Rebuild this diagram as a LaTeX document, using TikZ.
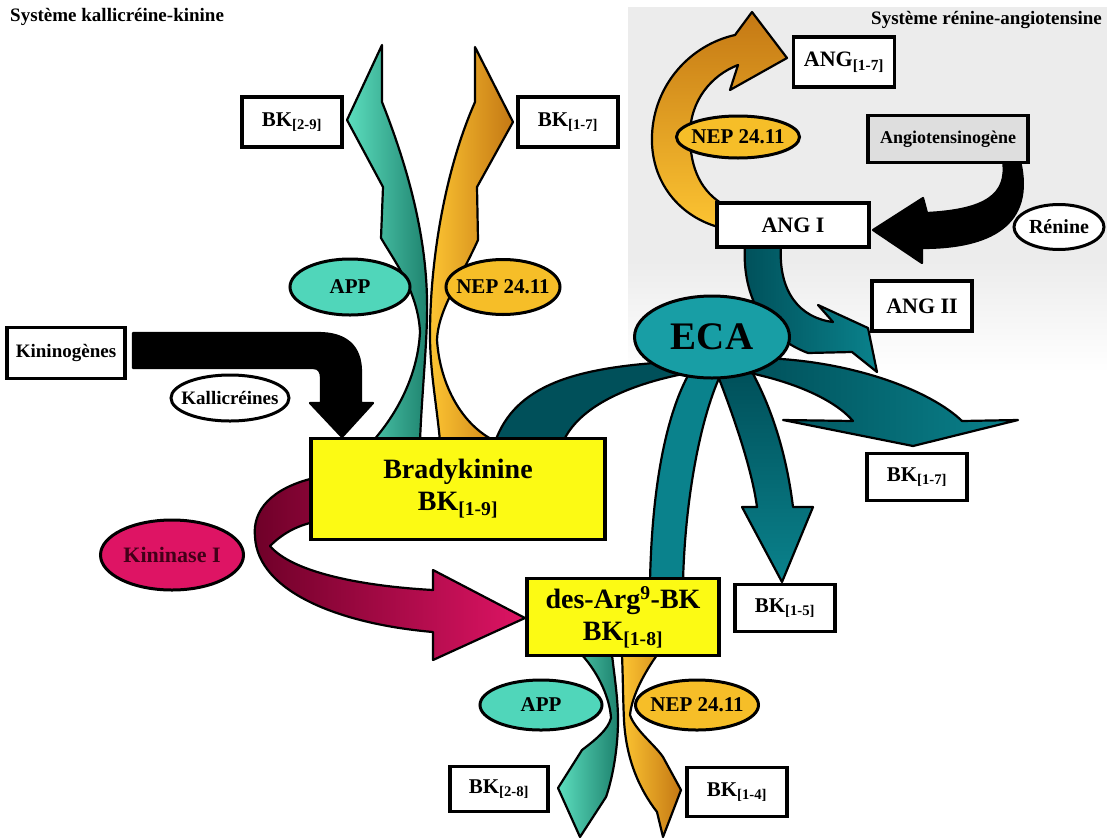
\documentclass[tikz,border=0pt]{standalone}
\usepackage{fontspec}
\setmainfont{Liberation Serif}
\usepackage{xcolor}
\usetikzlibrary{shapes.geometric}
\definecolor{panelgray}{RGB}{236,236,236}
\definecolor{applight}{RGB}{92,222,190}
\definecolor{appdark}{RGB}{30,130,110}
\definecolor{appcol}{RGB}{80,214,186}
\definecolor{neplight}{RGB}{252,196,50}
\definecolor{nepdark}{RGB}{196,120,20}
\definecolor{nepcol}{RGB}{246,190,40}
\definecolor{boxyellow}{RGB}{252,250,20}
\definecolor{ecacol}{RGB}{24,158,165}
\definecolor{ecamid}{RGB}{10,130,140}
\definecolor{ecadark}{RGB}{0,80,90}
\definecolor{kincol}{RGB}{222,20,100}
\definecolor{kindark}{RGB}{110,0,40}
\definecolor{agengray}{RGB}{222,222,222}
\tikzset{
    box/.style={rectangle, draw=black, line width=3.5pt, fill=white, align=center, inner sep=2pt, font=\bfseries\fontsize{21}{23}\selectfont},
    ybox/.style={box, fill=boxyellow, font=\bfseries\fontsize{28}{32}\selectfont},
    enz/.style={ellipse, draw=black, line width=3pt, inner sep=0pt, font=\bfseries\fontsize{21}{23}\selectfont},
    tight/.style={inner xsep=-14pt},
    flow/.style={draw=black, line width=2.2pt, line join=round},
    title/.style={inner sep=0pt, font=\bfseries\fontsize{19}{21}\selectfont}
}
\begin{document}
\begin{tikzpicture}[x=1pt, y=-1pt]
    \useasboundingbox (0,0) rectangle (1107,838);
    \fill[white] (0,0) rectangle (1107,838);

    % Renin-angiotensin panel
    \fill[panelgray] (628,7) rectangle (1107,262);
    \shade[top color=panelgray, bottom color=white] (628,261) rectangle (1107,372);

    % Titles
    \node[title, anchor=west] (TitleKK) at (10,17) {Système kallicréine-kinine};
    \node[title, anchor=east] (TitleRA) at (1102,20) {Système rénine-angiotensine};

    % Kallikrein arrow
    \draw[flow, fill=black] (133,333) -- (318,333) .. controls (346,333) and (361,346) .. (361,372) -- (361,403) -- (373,403) -- (342,437) -- (310,403) -- (321,403) -- (321,378) .. controls (321,372) and (319,368) .. (313,368) -- (133,368) -- cycle;

    % APP / NEP arrows from bradykinin
    \draw[flow, left color=applight, right color=appdark] (373,441) .. controls (400,410) and (418,372) .. (420,332) .. controls (418,292) and (395,262) .. (381,238) -- (383,187) -- (347,120) -- (382,45) -- (382,102) .. controls (405,160) and (426,230) .. (427,300) .. controls (428,335) and (422,390) .. (420,441) -- cycle;
    \draw[flow, left color=neplight, right color=nepdark] (440,441) .. controls (436,400) and (430,370) .. (430,335) .. controls (430,260) and (445,170) .. (475,102) -- (475,47) -- (513,122) -- (477,187) -- (478,240) .. controls (460,280) and (438,310) .. (437,340) .. controls (440,385) and (462,425) .. (495,441) -- cycle;

    % Kininase I arrow
    \draw[flow, left color=kindark, right color=kincol] (314,478) .. controls (272,488) and (252,510) .. (255,537) .. controls (258,592) and (340,624) .. (433,632) -- (433,660) -- (525,618) -- (433,570) -- (433,590) .. controls (360,586) and (292,572) .. (270,546) .. controls (282,534) and (296,526) .. (314,522) -- cycle;

    % ECA arrows
    \draw[flow, fill=ecadark] (495,442) .. controls (515,385) and (575,368) .. (668,362) -- (688,373) .. controls (625,385) and (578,408) .. (563,442) -- cycle;
    \draw[flow, fill=ecamid] (650,582) .. controls (652,480) and (668,410) .. (690,372) -- (720,376) .. controls (700,420) and (685,500) .. (683,582) -- cycle;
    \draw[flow, top color=ecadark, bottom color=ecamid] (718,376) .. controls (735,420) and (752,470) .. (757,507) -- (742,507) -- (782,582) -- (813,507) -- (793,507) .. controls (786,450) and (770,405) .. (752,372) -- cycle;
    \draw[flow, left color=ecadark, right color=ecamid] (745,372) .. controls (795,382) and (835,400) .. (853,421) -- (783,420) -- (913,446) -- (1018,420) -- (962,421) .. controls (930,390) and (850,360) .. (760,358) -- cycle;
    \draw[flow, left color=ecadark, right color=ecamid] (745,246) .. controls (742,290) and (760,335) .. (808,353) -- (852,352) -- (877,372) -- (868,328) -- (818,305) -- (833,322) .. controls (800,318) and (778,292) .. (781,246) -- cycle;

    % Renin arrow
    \draw[flow, fill=black] (1003,161) .. controls (1008,195) and (985,210) .. (927,213) -- (923,198) -- (873,230) -- (922,263) -- (922,248) .. controls (990,248) and (1035,225) .. (1020,161) -- cycle;

    % NEP arrow ANG I -> ANG 1-7
    \draw[flow, top color=nepdark, bottom color=neplight] (722,228) .. controls (680,218) and (650,182) .. (652,135) .. controls (654,85) and (690,45) .. (735,35) -- (752,12) -- (787,58) -- (730,90) -- (738,65) .. controls (712,75) and (690,100) .. (690,135) .. controls (690,170) and (702,192) .. (724,205) -- cycle;

    % APP / NEP arrows from des-Arg9-BK
    \draw[flow, left color=applight, right color=appdark] (582,655) .. controls (600,675) and (610,700) .. (611,718) .. controls (608,730) and (595,740) .. (582,750) -- (558,788) -- (580,837) -- (606,797) .. controls (612,780) and (618,750) .. (618,720) .. controls (618,700) and (615,680) .. (612,655) -- cycle;
    \draw[flow, left color=neplight, right color=nepdark] (622,655) .. controls (623,680) and (623,700) .. (624,720) .. controls (626,760) and (640,790) .. (657,812) -- (663,837) -- (681,790) -- (663,757) .. controls (655,745) and (635,730) .. (630,715) .. controls (632,695) and (645,672) .. (657,655) -- cycle;

    % Boxes
    \node[box, minimum width=100pt, minimum height=50pt] (BKtwonine) at (292,122) {BK\textsubscript{[2-9]}};
    \node[box, minimum width=100pt, minimum height=50pt] (BKoneseven) at (568,122) {BK\textsubscript{[1-7]}};
    \node[box, minimum width=118pt, minimum height=51pt, font=\bfseries\fontsize{19}{21}\selectfont] (Kininogenes) at (66,353) {Kininogènes};
    \node[ybox, minimum width=294pt, minimum height=101pt] (Bradykinine) at (458,489) {Bradykinine\\BK\textsubscript{[1-9]}};
    \node[ybox, minimum width=192pt, minimum height=77pt, inner sep=0pt] (DesArg) at (623,617) {des-Arg\textsuperscript{9}-BK\\BK\textsubscript{[1-8]}};
    \node[box, minimum width=98pt, minimum height=45pt] (BKtwoeight) at (499,789) {BK\textsubscript{[2-8]}};
    \node[box, minimum width=100pt, minimum height=49pt] (BKonefour) at (737,792) {BK\textsubscript{[1-4]}};
    \node[box, minimum width=100pt, minimum height=47pt] (BKonefive) at (785,608) {BK\textsubscript{[1-5]}};
    \node[box, minimum width=100pt, minimum height=47pt] (BKonesevenR) at (917,477) {BK\textsubscript{[1-7]}};
    \node[box, minimum width=100pt, minimum height=50pt, font=\bfseries\fontsize{22}{24}\selectfont] (ANGtwo) at (922,306) {ANG II};
    \node[box, minimum width=152pt, minimum height=44pt, font=\bfseries\fontsize{22}{24}\selectfont] (ANGone) at (793,225) {ANG I};
    \node[box, minimum width=101pt, minimum height=50pt, font=\bfseries\fontsize{22}{24}\selectfont] (ANGonesev) at (844,62) {ANG\textsubscript{[1-7]}};
    \node[box, fill=agengray, minimum width=160pt, minimum height=47pt, font=\bfseries\fontsize{18}{20}\selectfont] (Angiotensinogene) at (948,139) {Angiotensinogène};

    % Enzymes
    \node[enz, tight, fill=white, minimum width=118pt, minimum height=46pt, font=\bfseries\fontsize{19}{21}\selectfont] (Kallicreines) at (230,398) {Kallicréines};
    \node[enz, fill=appcol, minimum width=120pt, minimum height=56pt] (APPtop) at (350,287) {APP};
    \node[enz, tight, fill=nepcol, minimum width=114pt, minimum height=55pt] (NEPtop) at (503,287) {NEP 24.11};
    \node[enz, tight, fill=kincol, minimum width=143pt, minimum height=70pt, text=kindark!60!black, font=\bfseries\fontsize{22}{24}\selectfont] (Kininase) at (172,555) {Kininase I};
    \node[enz, fill=appcol, minimum width=122pt, minimum height=50pt] (APPbot) at (541,705) {APP};
    \node[enz, tight, fill=nepcol, minimum width=123pt, minimum height=50pt] (NEPbot) at (697,705) {NEP 24.11};
    \node[enz, tight, fill=nepcol, minimum width=123pt, minimum height=42pt] (NEPang) at (738,137) {NEP 24.11};
    \node[enz, fill=white, minimum width=90pt, minimum height=45pt, font=\bfseries\fontsize{20}{22}\selectfont] (Renine) at (1059,227) {Rénine};
    \node[enz, fill=ecacol, minimum width=155pt, minimum height=82pt, font=\bfseries\fontsize{39}{41}\selectfont] (ECA) at (712,337) {ECA};
\end{tikzpicture}
\end{document}
